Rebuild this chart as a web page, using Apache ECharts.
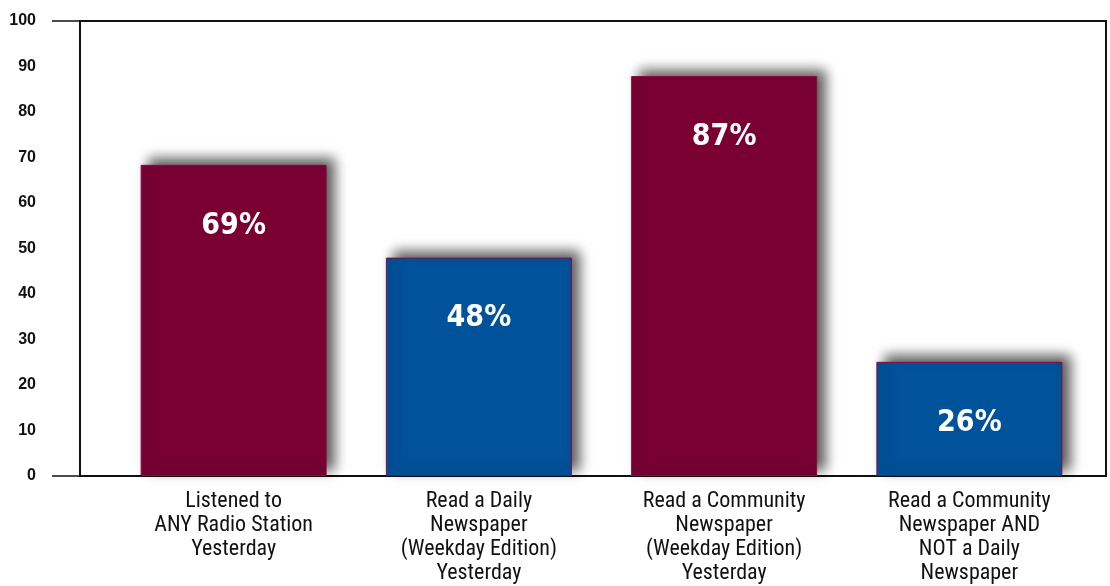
<!DOCTYPE html>
<html>
<head>
<meta charset="utf-8">
<script src="https://cdn.jsdelivr.net/npm/echarts@6/dist/echarts.min.js"></script>
<style>html,body{margin:0;padding:0;background:#fff;}#c{width:1110px;height:586px;}</style>
</head>
<body>
<div id="c"></div>
<script>
var categories = [
  "Listened to\nANY Radio Station\nYesterday",
  "Read a Daily\nNewspaper\n(Weekday Edition)\nYesterday",
  "Read a Community\nNewspaper\n(Weekday Edition)\nYesterday",
  "Read a Community\nNewspaper AND\nNOT a Daily\nNewspaper"
];
var values = [68.4, 48, 87.9, 25.1];
var valueLabels = ["69%", "48%", "87%", "26%"];
var barColors = ["#7a0034", "#00529b", "#7a0034", "#00529b"];

var chart = echarts.init(document.getElementById('c'));
chart.setOption({
  animation: false,
  grid: [
    {left: 111, right: 18, top: 21, bottom: 110},
    {left: 80, right: 4, top: 21, bottom: 110, show: true, borderColor: '#111', borderWidth: 2, backgroundColor: 'transparent'}
  ],
  xAxis: [
    {type: 'category', gridIndex: 0, data: categories,
     axisLine: {show: false}, axisTick: {show: false},
     axisLabel: {color: '#111', fontFamily: '"Roboto Condensed", Roboto, sans-serif', fontSize: 22, lineHeight: 24, margin: 13, interval: 0}},
    {type: 'value', gridIndex: 1, show: false}
  ],
  yAxis: [
    {type: 'value', gridIndex: 0, min: 0, max: 100, interval: 10,
     axisLine: {show: false}, axisTick: {show: false}, splitLine: {show: false},
     axisLabel: {color: '#111', fontFamily: '"Liberation Sans", Arial, sans-serif', fontWeight: 'bold', fontSize: 16, margin: 75}},
    {type: 'value', gridIndex: 1, min: 0, max: 100, interval: 100,
     axisLine: {show: false}, splitLine: {show: false}, axisLabel: {show: false},
     axisTick: {show: true, length: 28, lineStyle: {color: '#111', width: 1.5}}}
  ],
  series: [{
    type: 'bar',
    xAxisIndex: 0, yAxisIndex: 0,
    barWidth: 186,
    data: values.map(function (v, i) {
      return {value: v, itemStyle: {color: barColors[i]}};
    }),
    itemStyle: {
      borderColor: '#8a0a3a', borderWidth: 1,
      shadowBlur: 12, shadowOffsetX: 8, shadowOffsetY: -6, shadowColor: 'rgba(0,0,0,0.65)'
    },
    label: {
      show: true, position: 'insideTop', distance: 46,
      color: '#fff', fontFamily: '"DejaVu Sans Condensed", Roboto, sans-serif', fontWeight: 'bold', fontSize: 30,
      formatter: function (p) { return valueLabels[p.dataIndex]; }
    }
  }]
});
</script>
</body>
</html>
